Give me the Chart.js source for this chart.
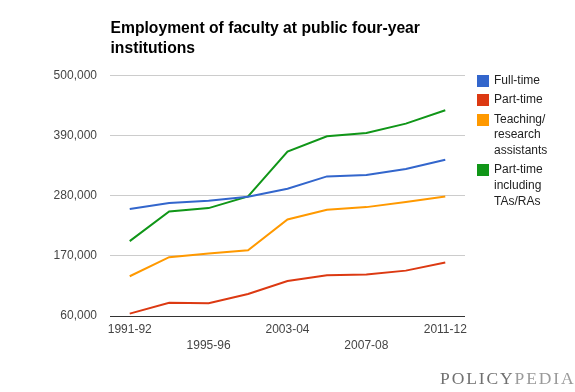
<!DOCTYPE html>
<html>
<head>
<meta charset="utf-8">
<script src="https://cdn.jsdelivr.net/npm/chart.js@4"></script>
<style>
  html, body { margin: 0; padding: 0; background: #fff; }
  #wrap { position: relative; width: 575px; height: 392px; overflow: hidden; }
  #chart { position: absolute; left: 0; top: 0; }
  .title {
    position: absolute; left: 110.5px; top: 17.6px;
    font: bold 15.7px "Liberation Sans", Arial, sans-serif; line-height: 20.7px; color: #000;
  }
  .legend {
    position: absolute; left: 477px; top: 73.2px;
    font: 12px "Liberation Sans", Arial, sans-serif; line-height: 15.7px; color: #222;
  }
  .legend .item { position: relative; padding-left: 17px; margin-bottom: 3.6px; }
  .legend .box { position: absolute; left: 0; top: 1.8px; width: 12px; height: 12px; }
  .mark {
    position: absolute; left: 440px; top: 368px;
    font: 17.5px "Liberation Serif", "Times New Roman", serif; letter-spacing: 1.9px; line-height: 20px;
  }
</style>
</head>
<body>
<div id="wrap">
  <canvas id="chart" width="575" height="392"></canvas>
  <div class="title">Employment of faculty at public four-year<br>institutions</div>
  <div class="legend" id="legend"></div>
  <div class="mark"><span style="color:#707070">POLICY</span><span style="color:#9a9a9a">PEDIA</span></div>
</div>
<script>
// categorias (anos letivos) e valores de cada série
const years = ["1991-92", "1993-94", "1995-96", "1999-2000", "2003-04", "2005-06", "2007-08", "2009-10", "2011-12"]
const fullTime = [255600, 266600, 270800, 278000, 292800, 315400, 318000, 329000, 346000]
const partTime = [64300, 84400, 83200, 100300, 124000, 134600, 135800, 143000, 157800]
const assistants = [132700, 167600, 174300, 180400, 236600, 254300, 259200, 268400, 278800]
const partTimeInclTAs = [196900, 251300, 257400, 278800, 360700, 388800, 394900, 412000, 436400]

// rótulos do eixo Y
const yTicks = [60000, 170000, 280000, 390000, 500000]

const seriesNames = ["Full-time", "Part-time", ["Teaching/", "research", "assistants"], ["Part-time", "including", "TAs/RAs"]]
const seriesColors = ["#3366cc", "#dc3912", "#ff9900", "#109618"]
const seriesData = [fullTime, partTime, assistants, partTimeInclTAs]

const font = { family: "'Liberation Sans', Arial, sans-serif", size: 12 }

const ctx = document.getElementById("chart").getContext("2d")

new Chart(ctx, {
  type: "line",
  data: {
    labels: years,
    datasets: seriesData.map((d, i) => ({
      label: [].concat(seriesNames[i]).join(" "),
      data: d,
      borderColor: seriesColors[i],
      backgroundColor: seriesColors[i],
      borderWidth: 2,
      pointRadius: 0,
      tension: 0,
      fill: false,
    })),
  },
  options: {
    responsive: false,
    animation: false,
    layout: { padding: { left: 0, right: 110, top: 75.5, bottom: 0 } },
    plugins: {
      legend: { display: false },
      title: { display: false },
      tooltip: { enabled: false },
    },
    scales: {
      x: {
        offset: true,
        grid: { display: false, drawTicks: false },
        border: { display: false },
        afterFit: (scale) => { scale.height = 76 },
        ticks: {
          autoSkip: false,
          maxRotation: 0,
          minRotation: 0,
          padding: 6,
          color: "#444",
          font: { ...font, lineHeight: 1.31 },
          // linhas alternadas: índices 0,4,8 em cima; 2,6 embaixo
          callback: (v, i) => {
            if (i % 4 === 0) return years[i]
            if (i % 2 === 0) return ["", years[i]]
            return ""
          },
        },
      },
      y: {
        min: 60000,
        max: 500000,
        grid: {
          drawTicks: false,
          color: (c) => (c.tick && c.tick.value === 60000 ? "#333" : "#ccc"),
        },
        border: { display: false },
        afterFit: (scale) => { scale.width = 110 },
        afterBuildTicks: (scale) => { scale.ticks = yTicks.map((v) => ({ value: v })) },
        ticks: {
          padding: 13,
          color: "#444",
          font: font,
          callback: (v) => Number(v).toLocaleString("en-US"),
        },
      },
    },
  },
})

// legenda em HTML
const legend = document.getElementById("legend")
seriesNames.forEach((name, i) => {
  const item = document.createElement("div")
  item.className = "item"
  item.innerHTML = '<span class="box" style="background:' + seriesColors[i] + '"></span>' + [].concat(name).join("<br>")
  legend.appendChild(item)
})
</script>
</body>
</html>
